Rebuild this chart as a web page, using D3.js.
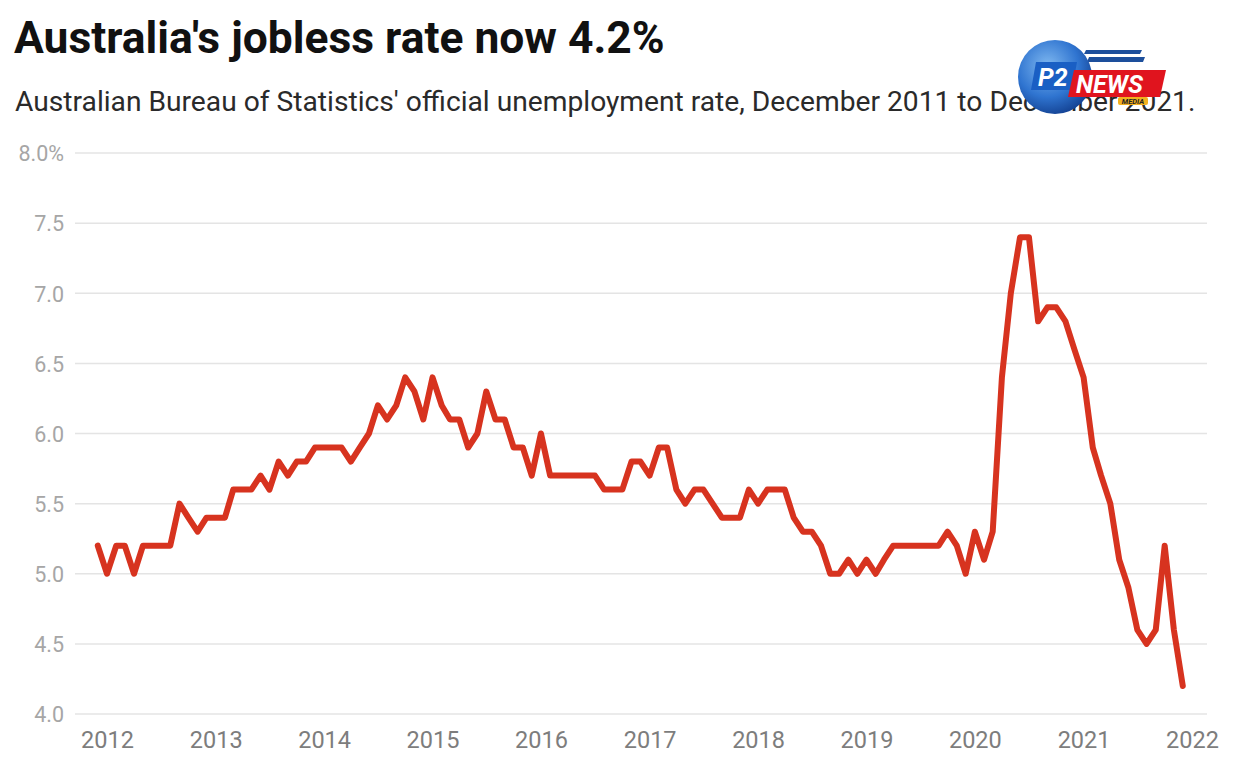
<!DOCTYPE html>
<html>
<head>
<meta charset="utf-8">
<script src="https://cdn.jsdelivr.net/npm/d3@7"></script>
<style>
  html, body { margin: 0; padding: 0; background: #fff; }
  svg { display: block; font-family: Roboto, "Noto Sans", sans-serif; }
</style>
</head>
<body>
<svg id="chart" width="1240" height="768"></svg>
<script>
// ---- Data ----
const title = "Australia's jobless rate now 4.2%";
const subtitle = "Australian Bureau of Statistics' official unemployment rate, December 2011 to December 2021.";
const startMonth = [2011, 11]; // December 2011 (year, zero-based month)
const rates = [
  5.2,
  5.0, 5.2, 5.2, 5.0, 5.2, 5.2, 5.2, 5.2, 5.5, 5.4, 5.3, 5.4,
  5.4, 5.4, 5.6, 5.6, 5.6, 5.7, 5.6, 5.8, 5.7, 5.8, 5.8, 5.9,
  5.9, 5.9, 5.9, 5.8, 5.9, 6.0, 6.2, 6.1, 6.2, 6.4, 6.3, 6.1,
  6.4, 6.2, 6.1, 6.1, 5.9, 6.0, 6.3, 6.1, 6.1, 5.9, 5.9, 5.7,
  6.0, 5.7, 5.7, 5.7, 5.7, 5.7, 5.7, 5.6, 5.6, 5.6, 5.8, 5.8,
  5.7, 5.9, 5.9, 5.6, 5.5, 5.6, 5.6, 5.5, 5.4, 5.4, 5.4, 5.6,
  5.5, 5.6, 5.6, 5.6, 5.4, 5.3, 5.3, 5.2, 5.0, 5.0, 5.1, 5.0,
  5.1, 5.0, 5.1, 5.2, 5.2, 5.2, 5.2, 5.2, 5.2, 5.3, 5.2, 5.0,
  5.3, 5.1, 5.3, 6.4, 7.0, 7.4, 7.4, 6.8, 6.9, 6.9, 6.8, 6.6,
  6.4, 5.9, 5.7, 5.5, 5.1, 4.9, 4.6, 4.5, 4.6, 5.2, 4.6, 4.2
];
const yTicks = [4.0, 4.5, 5.0, 5.5, 6.0, 6.5, 7.0, 7.5, 8.0];
const xTickYears = [2012, 2013, 2014, 2015, 2016, 2017, 2018, 2019, 2020, 2021, 2022];

// ---- Layout ----
const svg = d3.select("#chart");
const gridLeft = 75, gridRight = 1207;

const data = rates.map((v, i) => ({
  date: d3.timeMonth.offset(new Date(startMonth[0], startMonth[1], 1), i),
  value: v
}));

const x = d3.scaleTime()
  .domain([new Date(2012, 0, 1), new Date(2022, 0, 1)])
  .range([107, 1192]);
const y = d3.scaleLinear().domain([4, 8]).range([714, 153]);

// Title & subtitle
svg.append("text")
  .attr("x", 14).attr("y", 53)
  .attr("font-size", 44.4).attr("font-weight", 700).attr("fill", "#111")
  .text(title);
svg.append("text")
  .attr("x", 15).attr("y", 111)
  .attr("font-size", 28.2).attr("fill", "#2a2a2a")
  .text(subtitle);

// Gridlines
svg.append("g").selectAll("line").data(yTicks).join("line")
  .attr("x1", gridLeft).attr("x2", gridRight)
  .attr("y1", d => y(d)).attr("y2", d => y(d))
  .attr("stroke", "#e4e4e4").attr("stroke-width", 1.5);

// Y axis labels
const yAxis = d3.axisLeft(y).tickValues(yTicks).tickSize(0).tickPadding(0)
  .tickFormat(d => d === 8 ? d3.format(".1f")(d) + "%" : d3.format(".1f")(d));
svg.append("g").attr("transform", "translate(64,0)").call(yAxis)
  .call(g => g.select(".domain").remove())
  .call(g => g.selectAll("text")
    .attr("font-family", "Roboto, sans-serif")
    .attr("font-size", 21.5).attr("fill", "#a6a6a6").attr("dy", "0.36em"));

// X axis labels
const xAxis = d3.axisBottom(x)
  .tickValues(xTickYears.map(yv => new Date(yv, 0, 1)))
  .tickSize(0).tickPadding(0).tickFormat(d3.timeFormat("%Y"));
svg.append("g").attr("transform", "translate(0,731)").call(xAxis)
  .call(g => g.select(".domain").remove())
  .call(g => g.selectAll("text")
    .attr("font-family", "Roboto, sans-serif")
    .attr("font-size", 23.5).attr("fill", "#7d7d7d"));

// Line
const line = d3.line().x(d => x(d.date)).y(d => y(d.value));
svg.append("path").datum(data)
  .attr("d", line)
  .attr("fill", "none")
  .attr("stroke", "#d7331f")
  .attr("stroke-width", 6)
  .attr("stroke-linejoin", "round")
  .attr("stroke-linecap", "round");

// Watermark logo (P2 NEWS MEDIA) overlaid on the subtitle, as in the reference
const logo = svg.append("g");
logo.append("path").attr("d", "M1086,50 L1142,50 L1140,54 L1084,54 Z").attr("fill", "#1d4f9c");
logo.append("path").attr("d", "M1089,57 L1145,57 L1143,62 L1087,62 Z").attr("fill", "#1d4f9c");
const grad = svg.append("defs").append("radialGradient").attr("id", "globe")
  .attr("cx", "40%").attr("cy", "35%").attr("r", "70%");
grad.append("stop").attr("offset", "0%").attr("stop-color", "#7fb8f0");
grad.append("stop").attr("offset", "60%").attr("stop-color", "#2f74d0");
grad.append("stop").attr("offset", "100%").attr("stop-color", "#123f8f");
logo.append("circle").attr("cx", 1055).attr("cy", 77).attr("r", 37).attr("fill", "url(#globe)");
logo.append("path").attr("d", "M1036,62 L1077,62 L1072,90 L1031,90 Z").attr("fill", "#1a5fc4");
logo.append("text").attr("x", 1038).attr("y", 86).attr("font-size", 25).attr("font-weight", 700)
  .attr("font-style", "italic").attr("fill", "#fff").text("P2");
logo.append("path").attr("d", "M1074,70 L1166,70 L1160,97 L1068,97 Z").attr("fill", "#e0141e");
logo.append("text").attr("x", 1076).attr("y", 93).attr("font-size", 25).attr("font-weight", 700)
  .attr("font-style", "italic").attr("fill", "#fff").text("NEWS");
logo.append("rect").attr("x", 1118).attr("y", 97).attr("width", 30).attr("height", 8).attr("rx", 2)
  .attr("fill", "#f2b01e");
logo.append("text").attr("x", 1133).attr("y", 104).attr("text-anchor", "middle").attr("font-size", 7.5)
  .attr("font-weight", 700).attr("font-style", "italic").attr("fill", "#222").text("MEDIA");
</script>
</body>
</html>
